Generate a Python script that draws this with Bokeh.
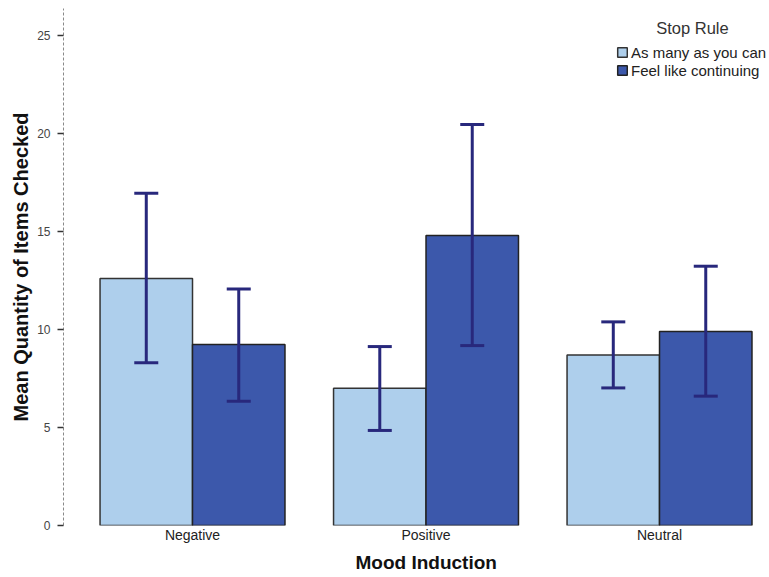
from bokeh.plotting import figure
from bokeh.models import (ColumnDataSource, Range1d, FixedTicker, Legend, LegendItem,
                          Label, Whisker, TeeHead, Title)
from bokeh.transform import dodge
from bokeh.embed import file_html
from bokeh.resources import INLINE

categories = ["Negative", "Positive", "Neutral"]
series_names = ["As many as you can", "Feel like continuing"]
as_many_mean = [12.6, 7.0, 8.7]
as_many_upper = [16.95, 9.13, 10.39]
as_many_lower = [8.3, 4.85, 7.02]
feel_mean = [9.23, 14.8, 9.9]
feel_upper = [12.07, 20.46, 13.23]
feel_lower = [6.34, 9.18, 6.6]
y_ticks = [0, 5, 10, 15, 20, 25]

light = "#AECFEC"
dark = "#3C58AB"
err_col = "#28287C"
font = "Liberation Sans"

xs = list(range(len(categories)))
src_a = ColumnDataSource(dict(x=xs, top=as_many_mean, upper=as_many_upper, lower=as_many_lower))
src_b = ColumnDataSource(dict(x=xs, top=feel_mean, upper=feel_upper, lower=feel_lower))

p = figure(width=769, height=577, output_backend="svg", toolbar_location=None,
           x_range=Range1d(-0.5525, 2.471), y_range=Range1d(0, 26.38),
           min_border_left=63, min_border_right=0, min_border_top=8, min_border_bottom=52)
p.outline_line_color = None
p.grid.visible = False
p.background_fill_color = "white"

bw = 0.396
r_a = p.vbar(x=dodge("x", -bw / 2, range=p.x_range), top="top", width=bw, bottom=0, source=src_a,
             fill_color=light, line_color="#333333", line_width=1.5)
r_b = p.vbar(x=dodge("x", bw / 2, range=p.x_range), top="top", width=bw, bottom=0, source=src_b,
             fill_color=dark, line_color="#222222", line_width=1.5)

for src, off in ((src_a, -bw / 2), (src_b, bw / 2)):
    w = Whisker(base=dodge("x", off, range=p.x_range), upper="upper", lower="lower", source=src,
                line_color=err_col, line_width=3, level="overlay",
                upper_head=TeeHead(size=24, line_color=err_col, line_width=3),
                lower_head=TeeHead(size=24, line_color=err_col, line_width=3))
    p.add_layout(w)

# y axis
ya = p.yaxis[0]
ya.ticker = FixedTicker(ticks=y_ticks)
ya.axis_line_color = "#8a8a8a"
ya.axis_line_dash = "3 2"
ya.axis_line_width = 1
ya.major_tick_line_color = "#333333"
ya.major_tick_line_width = 1.5
ya.major_tick_out = 6
ya.major_tick_in = 0
ya.minor_tick_line_color = None
ya.major_label_text_font = font
ya.major_label_text_font_size = "12px"
ya.major_label_text_color = "#444444"
ya.major_label_standoff = 7
ya.axis_label = "Mean Quantity of Items Checked"
ya.axis_label_text_font = font
ya.axis_label_text_font_style = "bold"
ya.axis_label_text_font_size = "20px"
ya.axis_label_text_color = "#111111"
ya.axis_label_standoff = 2

# x axis
xa = p.xaxis[0]
xa.ticker = FixedTicker(ticks=xs)
xa.major_label_overrides = {i: c for i, c in enumerate(categories)}
xa.axis_line_color = None
xa.major_tick_line_color = None
xa.minor_tick_line_color = None
xa.major_label_text_font = font
xa.major_label_text_font_size = "14px"
xa.major_label_text_color = "#222222"
xa.major_label_standoff = -5

p.add_layout(Title(text="Mood Induction", align="left", offset=292, text_font=font,
                   text_font_style="bold", text_font_size="19px", text_color="#111111",
                   standoff=8, text_line_height=0.8), "below")

# legend
p.add_layout(Label(x=2.141, y=25.41, text="Stop Rule", text_font=font, text_font_size="16.5px",
                   text_color="#333333", text_align="center", text_baseline="middle"))
legend = Legend(items=[LegendItem(label=series_names[0], renderers=[r_a]),
                       LegendItem(label=series_names[1], renderers=[r_b])],
                location=(553, 446), padding=0, margin=0, spacing=0,
                glyph_width=12, glyph_height=12, label_height=18, label_standoff=3,
                label_text_font=font, label_text_font_size="15px", label_text_color="#222222",
                border_line_color=None, background_fill_alpha=0)
p.add_layout(legend)

open("out.html", "w").write(file_html(p, INLINE))
